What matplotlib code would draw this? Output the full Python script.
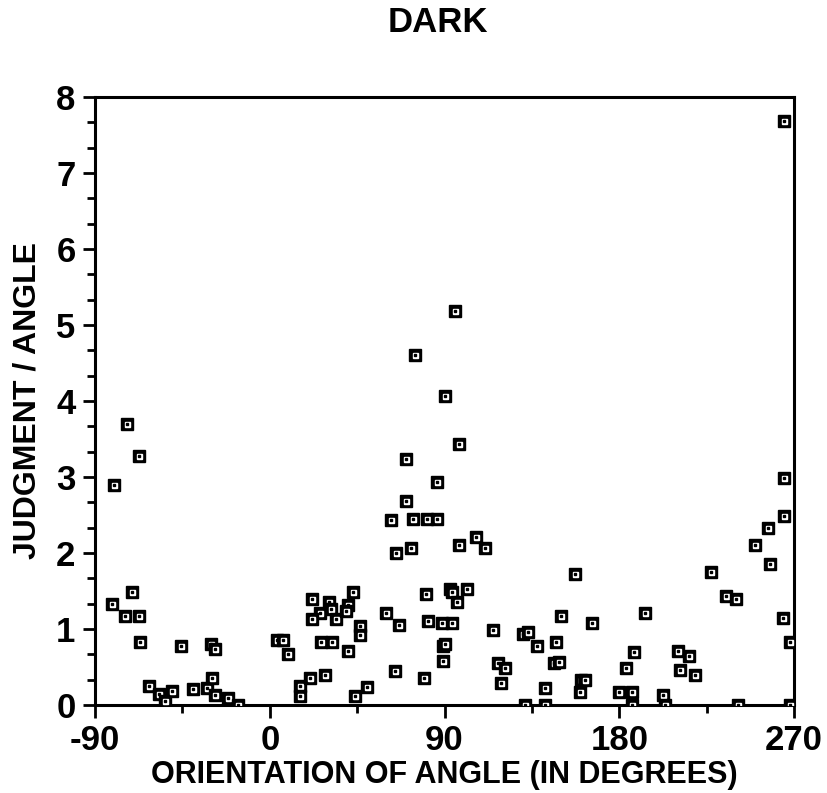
import matplotlib
matplotlib.use("Agg")
import matplotlib.pyplot as plt
from matplotlib.ticker import MultipleLocator

plt.rcParams['font.family'] = ['Liberation Sans', 'DejaVu Sans']
plt.rcParams['axes.unicode_minus'] = False

title = "DARK"
x_label = "ORIENTATION OF ANGLE (IN DEGREES)"
y_label = "JUDGMENT / ANGLE"
x_ticks = [-90, 0, 90, 180, 270]
y_ticks = [0, 1, 2, 3, 4, 5, 6, 7, 8]

orientation = [
    -80.1, -73.7, -67.4, -71.1, -81.1, -74.6, -67.2, -67.0, -62.2, -56.9,
    -54.0, -50.6, -45.6, -39.4, -32.5, -30.5, -28.3, -29.5, -28.3, -21.7,
    -16.6, 3.5, 6.9, 9.4, 15.4, 15.4, 20.6, 28.3, 21.5, 30.4,
    42.9, 40.3, 31.7, 25.7, 21.5, 34.3, 39.5, 46.3, 46.3, 26.6,
    32.3, 40.3, 44.1, 50.1, 60.0, 66.5, 64.3, 62.6, 65.2, 70.0,
    70.0, 72.9, 73.7, 75.0, 79.2, 80.3, 81.1, 81.5, 86.3, 86.3,
    88.9, 89.2, 90.5, 89.2, 90.0, 92.6, 93.8, 94.0, 95.2, 96.4,
    97.4, 97.4, 101.5, 106.3, 111.1, 115.2, 117.5, 120.9, 119.2, 130.3,
    132.9, 131.7, 137.7, 141.5, 141.5, 146.6, 149.2, 147.5, 150.0, 157.4,
    159.8, 160.4, 162.1, 166.0, 180.1, 183.5, 186.6, 186.6, 187.8, 193.5,
    202.7, 203.7, 210.0, 211.3, 216.1, 219.0, 227.5, 234.9, 240.1, 241.3,
    250.0, 256.4, 257.6, 264.1, 264.9, 264.9, 264.6, 267.9, 267.9,
]
judgment = [
    2.90, 3.70, 3.27, 1.49, 1.33, 1.17, 1.17, 0.83, 0.25, 0.15,
    0.05, 0.19, 0.77, 0.21, 0.22, 0.80, 0.74, 0.36, 0.13, 0.09,
    0.00, 0.86, 0.86, 0.67, 0.25, 0.12, 0.36, 0.39, 1.39, 1.36,
    1.49, 1.32, 1.26, 1.21, 1.13, 1.13, 1.23, 1.04, 0.92, 0.83,
    0.83, 0.71, 0.12, 0.23, 1.21, 1.05, 0.45, 2.43, 2.00, 3.24,
    2.68, 2.07, 2.45, 4.60, 0.36, 1.46, 2.45, 1.11, 2.93, 2.45,
    1.08, 0.77, 0.80, 0.58, 4.07, 1.53, 1.49, 1.08, 5.18, 1.36,
    3.43, 2.10, 1.52, 2.21, 2.07, 0.99, 0.55, 0.48, 0.29, 0.93,
    0.96, 0.00, 0.77, 0.22, 0.00, 0.55, 0.57, 0.83, 1.17, 1.72,
    0.17, 0.33, 0.33, 1.08, 0.17, 0.48, 0.17, 0.00, 0.70, 1.21,
    0.13, 0.00, 0.71, 0.46, 0.64, 0.39, 1.75, 1.43, 1.40, 0.00,
    2.11, 2.33, 1.85, 1.15, 2.48, 2.98, 7.69, 0.83, 0.00,
]

fig = plt.figure(figsize=(8.27, 7.93), dpi=100)
ax = fig.add_axes([0.1149, 0.111, 0.8452, 0.7667])

z = 3
for xv, yv in zip(orientation, judgment):
    ax.plot([xv], [yv], marker='s', ms=9.2, color='black', mec='black', lw=0, zorder=z)
    ax.plot([xv], [yv], marker='s', ms=3.6, color='white', mec='white', lw=0, zorder=z + 0.1)
    ax.plot([xv], [yv], marker='s', ms=1.5, color='black', mec='black', lw=0, zorder=z + 0.2)
    z += 0.5

ax.set_xlim(-90, 270)
ax.set_ylim(0, 8)
ax.set_xticks(x_ticks)
ax.set_yticks(y_ticks)
ax.xaxis.set_minor_locator(MultipleLocator(45))
ax.yaxis.set_minor_locator(MultipleLocator(1 / 3))

for s in ax.spines.values():
    s.set_linewidth(2.2)

ax.tick_params(axis='both', which='major', direction='out', length=9, width=2.0,
               labelsize=25)
ax.tick_params(axis='x', which='major', pad=5)
ax.tick_params(axis='y', which='major', pad=5)
ax.tick_params(axis='both', which='minor', direction='out', length=5.5, width=2.0)
ax.tick_params(top=False, right=False, which='both')
for lab in ax.get_xticklabels() + ax.get_yticklabels():
    lab.set_fontweight('bold')

ax.set_xlabel(x_label, fontsize=22, fontweight='bold', labelpad=2)
ax.set_ylabel(y_label, fontsize=23, fontweight='bold', labelpad=10)
fig.text(0.530, 0.972, title, fontsize=25, fontweight='bold', ha='center', va='center')

fig.savefig("out.png", dpi=100)
